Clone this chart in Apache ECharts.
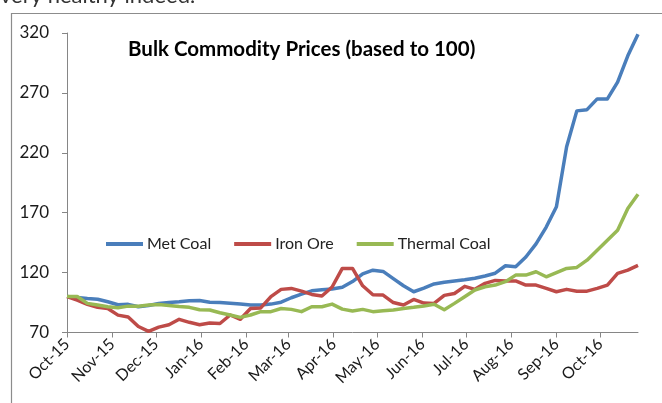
<!DOCTYPE html>
<html>
<head>
<meta charset="utf-8">
<script src="https://cdn.jsdelivr.net/npm/echarts@6/dist/echarts.min.js"></script>
<style>
  html, body { margin: 0; padding: 0; background: #fff; }
  #chart { width: 662px; height: 403px; }
</style>
</head>
<body>
<div id="chart"></div>
<script>
// weekly observations, starting 1 Oct 2015
const startDate = [2015, 9, 1]
const monthNames = ['Jan', 'Feb', 'Mar', 'Apr', 'May', 'Jun', 'Jul', 'Aug', 'Sep', 'Oct', 'Nov', 'Dec']
const seriesNames = ['Met Coal', 'Iron Ore', 'Thermal Coal']
const seriesColors = ['#4A7EBB', '#BE4B48', '#98B954']

const metCoal = [100, 99.2, 98.3, 97.8, 95.7, 93.2, 93.5, 91.5, 92.5, 94.2,
  95.1, 95.7, 96.5, 96.7, 95.3, 95, 94.5, 93.8, 93, 92.9,
  93.7, 95.3, 99, 102, 104.8, 105.6, 106.3, 107.7, 112.5, 119,
  122, 121, 115, 109, 104, 107, 110.5, 112, 113, 114,
  115.3, 117.2, 119.5, 125.7, 124.9, 133, 144, 158, 175, 225,
  255, 256, 265, 265, 279, 301, 319]
const ironOre = [100, 97, 93.5, 91, 90, 84.5, 83, 75, 71, 74.5,
  76.5, 81, 78.5, 76.5, 78, 77.5, 84.6, 81, 90, 90.5,
  100, 106, 106.8, 104.5, 101.8, 100.5, 108, 123.5, 123.5, 109,
  101.5, 101.2, 95, 93, 97.6, 94.6, 94.3, 101, 102.6, 108.5,
  106, 111, 113.5, 113, 113, 109.6, 109.6, 106.8, 104, 106,
  104.5, 104.5, 106.8, 109.6, 119.3, 122, 126]
const thermalCoal = [100, 100, 94.3, 92.9, 91.5, 90.7, 92, 92, 92.9, 93.3,
  92.6, 91.7, 91, 89, 88.8, 86.5, 84.6, 82.6, 84.6, 87.4,
  87.4, 90, 89.3, 87.4, 91.5, 91.5, 93.7, 89.5, 87.9, 89.3,
  87.4, 88.2, 88.7, 90, 91, 92.2, 93.6, 89, 94.3, 99.9,
  105.5, 108.2, 109.6, 112.4, 117.9, 117.9, 120.7, 116.5, 119.9, 123.5,
  124.3, 130.4, 138.7, 147, 155.4, 173.5, 185.4]

const dates = metCoal.map((v, i) => new Date(startDate[0], startDate[1], startDate[2] + 7 * i).getTime())

const font = 'Lato, "Open Sans", sans-serif'
const chart = echarts.init(document.getElementById('chart'))

chart.setOption({
  animation: false,
  textStyle: { fontFamily: font },
  graphic: [
    {
      type: 'text',
      left: 0,
      top: -15,
      style: { text: 'very healthy indeed.', font: '22px ' + font, fill: '#333' }
    },
    {
      type: 'rect',
      shape: { x: 11.5, y: 13.5, width: 700, height: 500 },
      style: { fill: 'none', stroke: '#8c8c8c', lineWidth: 1.2 },
      silent: true
    },
    {
      type: 'text',
      left: 128,
      top: 39,
      style: { text: 'Bulk Commodity Prices (based to 100)', font: 'bold 20.5px ' + font, fill: '#000' }
    }
  ],
  legend: {
    left: 101,
    top: 231,
    icon: 'rect',
    itemWidth: 37,
    itemHeight: 4,
    itemGap: 23,
    textStyle: { fontSize: 16, color: '#222', fontFamily: font, padding: [0, 0, 0, -1] },
    data: seriesNames
  },
  grid: { left: 67, right: 24, top: 33, bottom: 70.5, containLabel: false },
  xAxis: {
    type: 'time',
    min: dates[0],
    max: dates[dates.length - 1],
    minInterval: 28 * 86400000,
    maxInterval: 31 * 86400000,
    splitLine: { show: false },
    axisLine: { lineStyle: { color: '#868686', width: 1 } },
    axisTick: { show: true, length: 5, lineStyle: { color: '#868686' } },
    axisLabel: {
      rotate: 45,
      margin: 9,
      fontSize: 16,
      color: '#1a1a1a',
      fontFamily: font,
      hideOverlap: false,
      formatter: function (val) {
        const d = new Date(val)
        return monthNames[d.getMonth()] + '-' + String(d.getFullYear()).slice(2)
      }
    }
  },
  yAxis: {
    type: 'value',
    min: 70,
    max: 320,
    interval: 50,
    splitLine: { show: false },
    axisLine: { show: true, lineStyle: { color: '#868686', width: 1 } },
    axisTick: { show: true, length: 5, lineStyle: { color: '#868686' } },
    axisLabel: { fontSize: 17, color: '#1a1a1a', margin: 18, fontFamily: font }
  },
  series: [metCoal, ironOre, thermalCoal].map((vals, k) => ({
    name: seriesNames[k],
    type: 'line',
    symbol: 'none',
    color: seriesColors[k],
    lineStyle: { width: 3.5, color: seriesColors[k], join: 'round' },
    data: vals.map((v, i) => [dates[i], v])
  }))
})
</script>
</body>
</html>
